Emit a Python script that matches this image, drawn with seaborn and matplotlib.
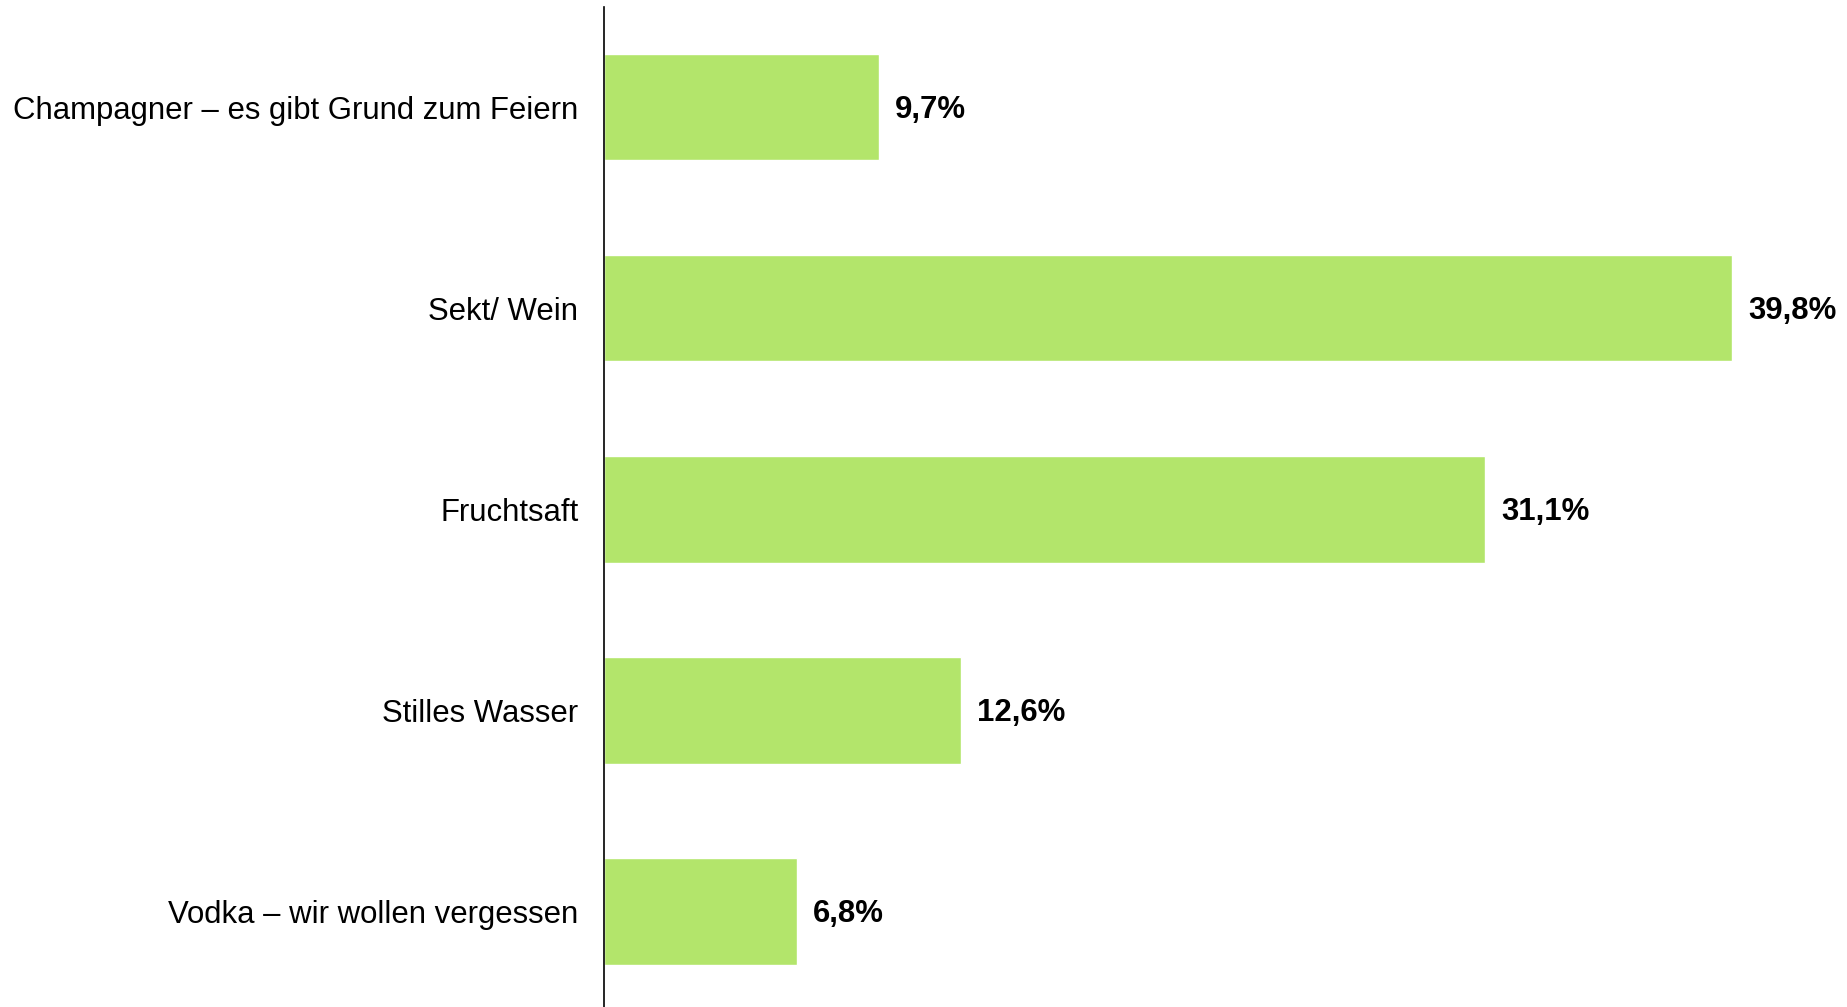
import matplotlib
matplotlib.use("Agg")
import matplotlib.pyplot as plt
import seaborn as sns
import pandas as pd

# data
categories = ["Champagner – es gibt Grund zum Feiern", "Sekt/ Wein", "Fruchtsaft",
              "Stilles Wasser", "Vodka – wir wollen vergessen"]
values = [9.7, 39.8, 31.1, 12.6, 6.8]
value_labels = ["9,7%", "39,8%", "31,1%", "12,6%", "6,8%"]

df = pd.DataFrame({"Getränk": categories, "Anteil": values})

sns.set_style("white")
plt.rcParams['font.family'] = ['Liberation Sans', 'DejaVu Sans']
plt.rcParams['text.color'] = 'black'
plt.rcParams['ytick.color'] = 'black'

fig = plt.figure(figsize=(18.47, 10.07), dpi=100)
ax = fig.add_axes([604 / 1847, -0.005, 1 - 604 / 1847, 1.0 - 0.0065 + 0.005])

sns.barplot(data=df, x="Anteil", y="Getränk", color="#b3e56b", width=0.53,
            saturation=1, ax=ax)

# value labels right of the bars
for i, lab in enumerate(value_labels):
    ax.annotate(lab, (values[i], i), xytext=(16, -3), textcoords="offset pixels",
                va="center", ha="left", fontsize=22.4, fontweight="bold",
                color="black")

ax.set_xlim(0, 43.86)
ax.set_ylim(4.5, -0.5)
ax.set_xlabel("")
ax.set_ylabel("")
ax.set_xticks([])
ax.tick_params(axis="y", length=0, pad=18.5, labelsize=22.4, labelcolor="black")
for s in ["top", "right", "bottom"]:
    ax.spines[s].set_visible(False)
ax.spines["left"].set_color("black")
ax.spines["left"].set_linewidth(1.2)

fig.savefig("out.png", dpi=100)
